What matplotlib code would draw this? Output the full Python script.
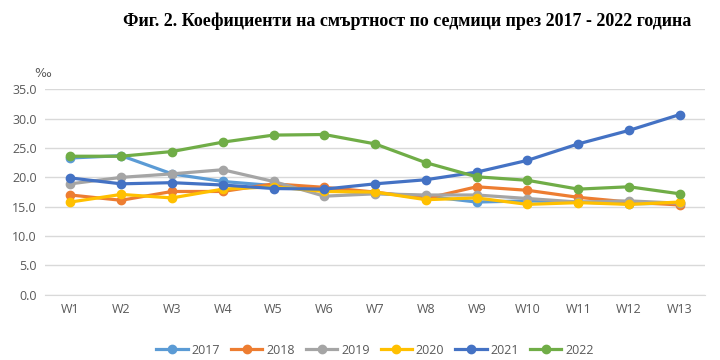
import matplotlib

matplotlib.use("Agg")
import matplotlib.pyplot as plt

weeks = ["W1", "W2", "W3", "W4", "W5", "W6", "W7", "W8", "W9", "W10", "W11", "W12", "W13"]
years = ["2017", "2018", "2019", "2020", "2021", "2022"]
y2017 = [23.3, 23.7, 20.6, 19.3, 18.6, 17.8, 17.3, 16.8, 15.8, 16.0, 15.8, 15.5, 15.6]
y2018 = [17.0, 16.1, 17.6, 17.6, 18.9, 18.3, 17.5, 16.4, 18.4, 17.8, 16.6, 15.8, 15.3]
y2019 = [18.9, 20.0, 20.6, 21.3, 19.3, 16.8, 17.2, 17.0, 17.0, 16.4, 15.8, 16.0, 15.6]
y2020 = [15.8, 17.1, 16.5, 18.0, 18.4, 17.6, 17.5, 16.2, 16.5, 15.4, 15.7, 15.4, 15.8]
y2021 = [19.9, 18.9, 19.1, 18.7, 18.1, 18.0, 18.9, 19.6, 20.9, 22.9, 25.7, 28.0, 30.7]
y2022 = [23.6, 23.6, 24.4, 26.0, 27.2, 27.3, 25.7, 22.5, 20.1, 19.5, 18.0, 18.4, 17.2]
series = [y2017, y2018, y2019, y2020, y2021, y2022]
colors = ["#5B9BD5", "#ED7D31", "#A5A5A5", "#FFC000", "#4472C4", "#70AD47"]

fig = plt.figure(figsize=(7.2, 3.6), dpi=100)
ax = fig.add_axes([0.0625, 0.181, 0.917, 0.571])

x = range(len(weeks))
for label, values, color in zip(years, series, colors):
    ax.plot(x, values, color=color, linewidth=2.3, marker="o", markersize=6, label=label)

ax.set_xlim(-0.5, len(weeks) - 0.5)
ax.set_ylim(0, 35)
ax.set_yticks([0, 5, 10, 15, 20, 25, 30, 35])
ax.set_yticklabels([f"{v:.1f}" for v in [0, 5, 10, 15, 20, 25, 30, 35]])
ax.set_xticks(list(x))
ax.set_xticklabels(weeks)
ax.grid(True, axis="y", color="#D9D9D9", linewidth=1)
ax.set_axisbelow(True)
for side in ["top", "right", "left"]:
    ax.spines[side].set_visible(False)
ax.spines["bottom"].set_color("#D9D9D9")
ax.tick_params(length=0, labelsize=9, labelcolor="#595959", pad=6)
for lbl in ax.get_xticklabels() + ax.get_yticklabels():
    lbl.set_fontfamily("Open Sans")

fig.text(0.048, 0.785, "‰", fontsize=9, color="#595959", family="DejaVu Sans")
fig.text(0.566, 0.94, "Фиг. 2. Коефициенти на смъртност по седмици през 2017 - 2022 година",
         ha="center", va="center", fontsize=13, fontweight="bold", family="Liberation Serif")

ax.legend(loc="center", bbox_to_anchor=(0.5, -0.27), ncol=6, frameon=False,
          prop={"family": "Open Sans", "size": 9}, labelcolor="#595959",
          handlelength=2.5, columnspacing=0.9, handletextpad=0.3)

fig.savefig("out.png", dpi=100)
